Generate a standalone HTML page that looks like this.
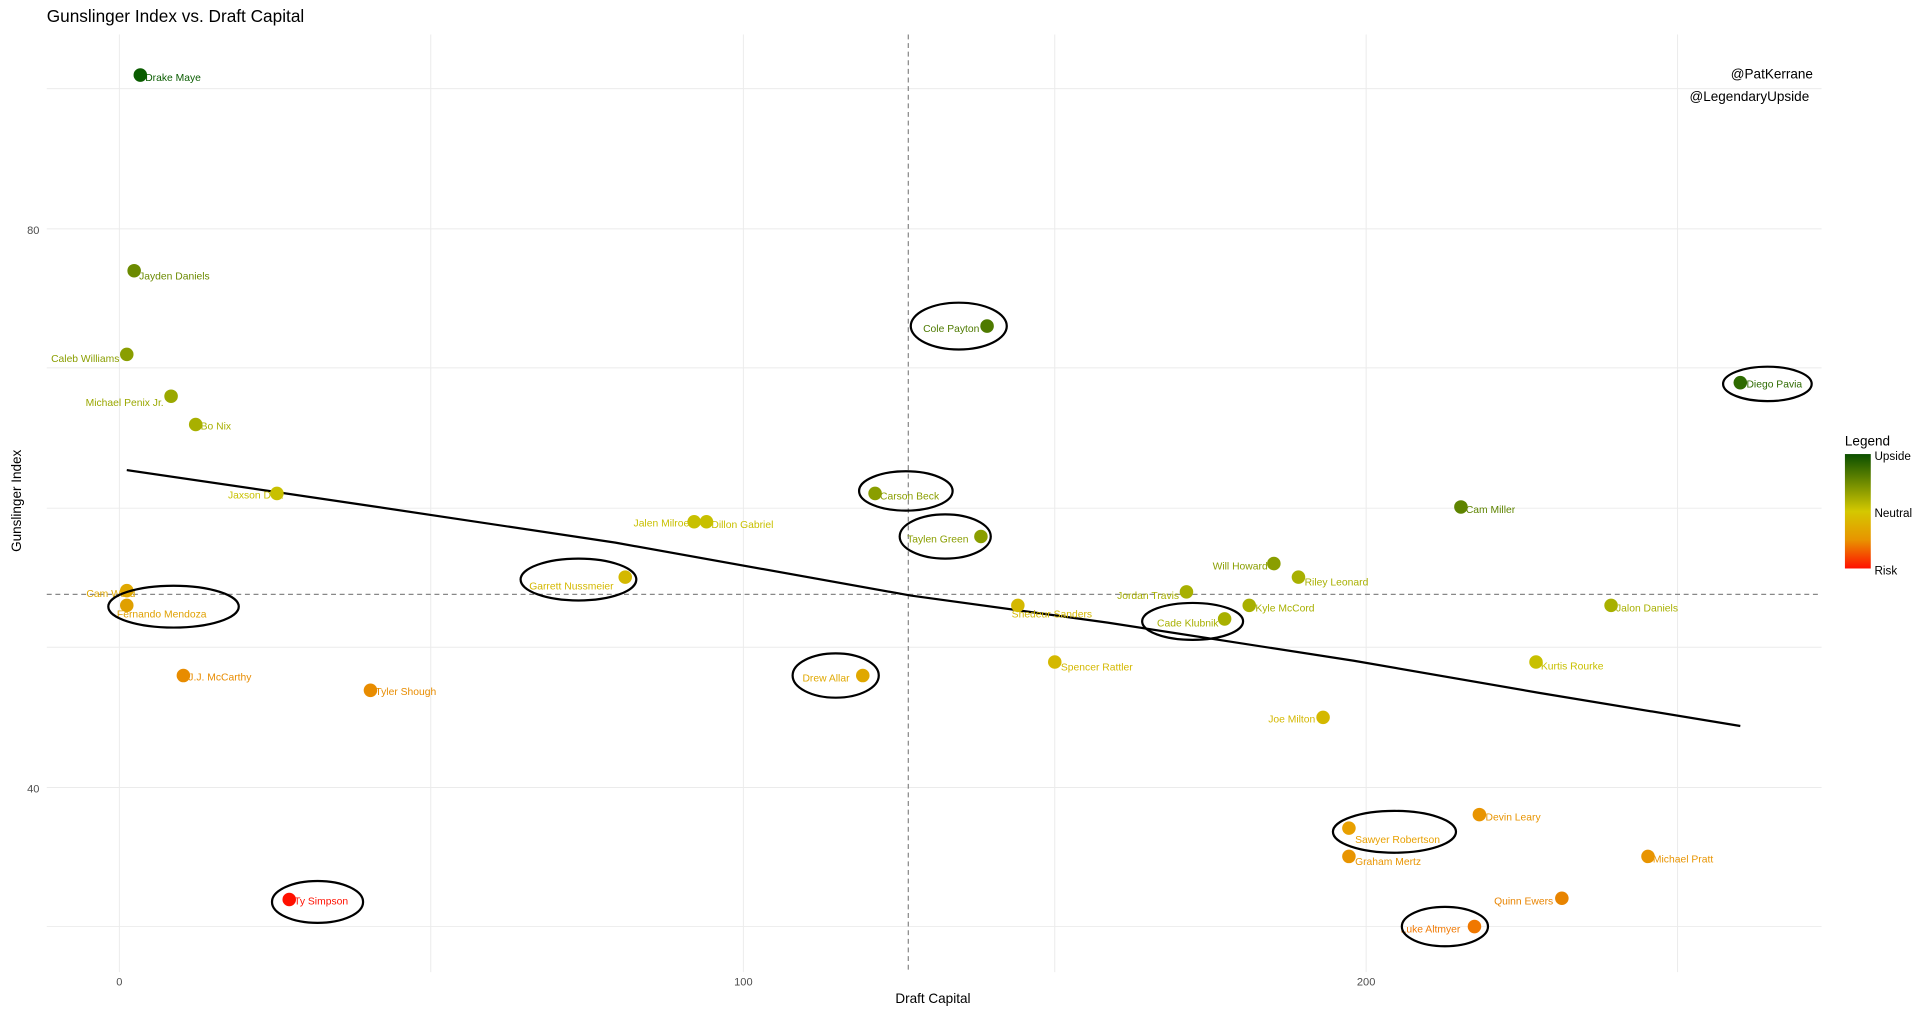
<!DOCTYPE html>
<html><head><meta charset="utf-8"><style>
html,body{margin:0;padding:0;background:#fff;}
svg{display:block;}
text{font-family:"Liberation Sans",sans-serif;}
.l{font-size:8.4px;}
.e{fill:none;stroke:#000;stroke-width:1.8;}
</style></head><body>
<svg width="1920" height="1009" viewBox="0 0 1560 820" preserveAspectRatio="none">
<defs><linearGradient id="g" x1="0" y1="0" x2="0" y2="1">
<stop offset="0" stop-color="#0a4f00"/><stop offset="0.5" stop-color="#d4c800"/><stop offset="0.75" stop-color="#e89400"/><stop offset="1" stop-color="#ff1000"/></linearGradient></defs>
<text x="38" y="18" font-size="14">Gunslinger Index vs. Draft Capital</text>
<g stroke="#ebebeb" stroke-width="0.8">
<line x1="38" x2="1480" y1="72" y2="72"/><line x1="38" x2="1480" y1="186" y2="186"/><line x1="38" x2="1480" y1="299" y2="299"/><line x1="38" x2="1480" y1="413" y2="413"/><line x1="38" x2="1480" y1="526" y2="526"/><line x1="38" x2="1480" y1="640" y2="640"/><line x1="38" x2="1480" y1="753" y2="753"/>
<line x1="97" x2="97" y1="28" y2="790"/><line x1="350" x2="350" y1="28" y2="790"/><line x1="604" x2="604" y1="28" y2="790"/><line x1="857" x2="857" y1="28" y2="790"/><line x1="1110" x2="1110" y1="28" y2="790"/><line x1="1363" x2="1363" y1="28" y2="790"/>
</g>
<g font-size="9" fill="#4d4d4d">
<text x="32" y="190" text-anchor="end">80</text><text x="32" y="644" text-anchor="end">40</text>
<text x="97" y="801" text-anchor="middle">0</text><text x="604" y="801" text-anchor="middle">100</text><text x="1110" y="801" text-anchor="middle">200</text>
</g>
<text x="758" y="815" font-size="11" text-anchor="middle">Draft Capital</text>
<text transform="translate(17,407) rotate(-90)" font-size="11" text-anchor="middle">Gunslinger Index</text>
<line x1="738" x2="738" y1="28" y2="790" stroke="#888" stroke-dasharray="4,3"/>
<line x1="38" x2="1480" y1="483" y2="483" stroke="#888" stroke-dasharray="4,3"/>
<polyline points="103,382 300,411 500,441 740,484 900,506 1100,537 1250,563 1414,590" fill="none" stroke="#000" stroke-width="1.8" stroke-linejoin="round"/>
<g>
<circle cx="114" cy="61" r="5.5" fill="#0a5c00"/><text class="l" x="118" y="66" fill="#0a5c00">Drake Maye</text>
<circle cx="109" cy="220" r="5.5" fill="#6b8a00"/><text class="l" x="113" y="227" fill="#6b8a00">Jayden Daniels</text>
<circle cx="103" cy="288" r="5.5" fill="#8a9e00"/><text class="l" x="97" y="294" text-anchor="end" fill="#8a9e00">Caleb Williams</text>
<circle cx="139" cy="322" r="5.5" fill="#9aa800"/><text class="l" x="133" y="330" text-anchor="end" fill="#9aa800">Michael Penix Jr.</text>
<circle cx="159" cy="345" r="5.5" fill="#a8b000"/><text class="l" x="163" y="349" fill="#a8b000">Bo Nix</text>
<text class="l" x="230" y="405" text-anchor="end" fill="#c8c000">Jaxson Dart</text><circle cx="225" cy="401" r="5.5" fill="#c8c000"/>
<circle cx="564" cy="424" r="5.5" fill="#c8c000"/><text class="l" x="560" y="428" text-anchor="end" fill="#c8c000">Jalen Milroe</text>
<circle cx="574" cy="424" r="5.5" fill="#c8c000"/><text class="l" x="578" y="429" fill="#c8c000">Dillon Gabriel</text>
<circle cx="508" cy="469" r="5.5" fill="#d4b800"/><text class="l" x="430" y="479" fill="#d4b800">Garrett Nussmeier</text><ellipse class="e" cx="470" cy="471" rx="47" ry="17"/>
<text class="l" x="110" y="485" text-anchor="end" fill="#e0a800">Cam Ward</text><circle cx="103" cy="480" r="5.5" fill="#e0a800"/>
<circle cx="103" cy="492" r="5.5" fill="#e0a000"/><text class="l" x="95" y="502" fill="#e0a000">Fernando Mendoza</text><ellipse class="e" cx="141" cy="493" rx="53" ry="17"/>
<circle cx="149" cy="549" r="5.5" fill="#e88c00"/><text class="l" x="153" y="553" fill="#e88c00">J.J. McCarthy</text>
<circle cx="301" cy="561" r="5.5" fill="#e88c00"/><text class="l" x="305" y="565" fill="#e88c00">Tyler Shough</text>
<circle cx="235" cy="731" r="5.5" fill="#ff1000"/><text class="l" x="239" y="735" fill="#ff1000">Ty Simpson</text><ellipse class="e" cx="258" cy="733" rx="37" ry="17"/>
<circle cx="802" cy="265" r="5.5" fill="#4e7a00"/><text class="l" x="750" y="270" fill="#4e7a00">Cole Payton</text><ellipse class="e" cx="779" cy="265" rx="39" ry="19"/>
<circle cx="711" cy="401" r="5.5" fill="#8a9e00"/><text class="l" x="715" y="406" fill="#8a9e00">Carson Beck</text><ellipse class="e" cx="736" cy="399" rx="38" ry="16"/>
<circle cx="797" cy="436" r="5.5" fill="#8a9e00"/><text class="l" x="737" y="441" fill="#8a9e00">Taylen Green</text><ellipse class="e" cx="768" cy="436" rx="37" ry="18"/>
<circle cx="701" cy="549" r="5.5" fill="#e0a800"/><text class="l" x="652" y="554" fill="#e0a800">Drew Allar</text><ellipse class="e" cx="679" cy="549" rx="35" ry="18"/>
<text class="l" x="822" y="502" fill="#d4b800">Shedeur Sanders</text><circle cx="827" cy="492" r="5.5" fill="#d4b800"/>
<circle cx="857" cy="538" r="5.5" fill="#d4b800"/><text class="l" x="862" y="545" fill="#d4b800">Spencer Rattler</text>
<circle cx="964" cy="481" r="5.5" fill="#a8b000"/><text class="l" x="958" y="487" text-anchor="end" fill="#a8b000">Jordan Travis</text>
<circle cx="1035" cy="458" r="5.5" fill="#8a9e00"/><text class="l" x="1030" y="463" text-anchor="end" fill="#8a9e00">Will Howard</text>
<circle cx="1055" cy="469" r="5.5" fill="#a8b000"/><text class="l" x="1060" y="476" fill="#a8b000">Riley Leonard</text>
<circle cx="995" cy="503" r="5.5" fill="#a8b000"/><text class="l" x="990" y="509" text-anchor="end" fill="#a8b000">Cade Klubnik</text><ellipse class="e" cx="969" cy="505" rx="41" ry="15"/>
<circle cx="1015" cy="492" r="5.5" fill="#a8b000"/><text class="l" x="1020" y="497" fill="#a8b000">Kyle McCord</text>
<text class="l" x="1078" y="587" text-anchor="end" fill="#d4b800">Joe Milton III</text><circle cx="1075" cy="583" r="5.5" fill="#d4b800"/>
<circle cx="1187" cy="412" r="5.5" fill="#5e8400"/><text class="l" x="1191" y="417" fill="#5e8400">Cam Miller</text>
<circle cx="1414" cy="311" r="5.5" fill="#2e6b00"/><text class="l" x="1419" y="315" fill="#2e6b00">Diego Pavia</text><ellipse class="e" cx="1436" cy="312" rx="36" ry="14"/>
<circle cx="1309" cy="492" r="5.5" fill="#a8b000"/><text class="l" x="1313" y="497" fill="#a8b000">Jalon Daniels</text>
<circle cx="1248" cy="538" r="5.5" fill="#c8c000"/><text class="l" x="1252" y="544" fill="#c8c000">Kurtis Rourke</text>
<circle cx="1202" cy="662" r="5.5" fill="#e89400"/><text class="l" x="1207" y="667" fill="#e89400">Devin Leary</text>
<circle cx="1096" cy="673" r="5.5" fill="#e8a000"/><text class="l" x="1101" y="685" fill="#e8a000">Sawyer Robertson</text><ellipse class="e" cx="1133" cy="676" rx="50" ry="17"/>
<circle cx="1096" cy="696" r="5.5" fill="#e89400"/><text class="l" x="1101" y="703" fill="#e89400">Graham Mertz</text>
<circle cx="1339" cy="696" r="5.5" fill="#e89400"/><text class="l" x="1343" y="701" fill="#e89400">Michael Pratt</text>
<circle cx="1269" cy="730" r="5.5" fill="#e88400"/><text class="l" x="1262" y="735" text-anchor="end" fill="#e88400">Quinn Ewers</text>
<text class="l" x="1138" y="758" fill="#f07800">Luke Altmyer</text><circle cx="1198" cy="753" r="5.5" fill="#f07800"/><ellipse class="e" cx="1174" cy="753" rx="35" ry="16"/>
</g>
<text x="1473" y="64" font-size="11" text-anchor="end">@PatKerrane</text>
<text x="1470" y="82" font-size="11" text-anchor="end">@LegendaryUpside</text>
<text x="1499" y="362" font-size="11">Legend</text>
<rect x="1499" y="369" width="21" height="93" fill="url(#g)"/>
<g font-size="9.5"><text x="1523" y="374">Upside</text><text x="1523" y="420">Neutral</text><text x="1523" y="467">Risk</text></g>
</svg>
</body></html>
